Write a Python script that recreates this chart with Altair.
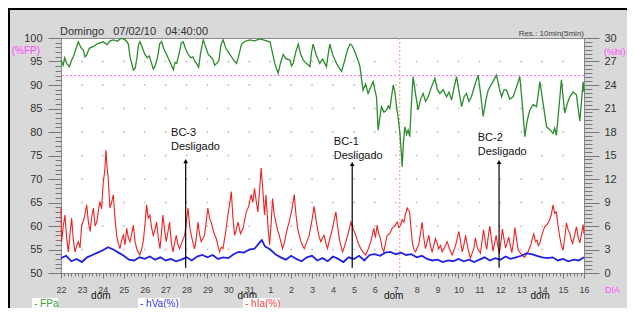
import altair as alt
import pandas as pd

# ---------------- data (x = days since 22 Jan 2010 00:00) ----------------
fpa_day = [0.00,0.10,0.18,0.27,0.40,0.50,0.59,0.70,0.83,0.95,1.07,1.15,1.23,1.35,1.55,1.75,2.02,2.20,2.35,2.50,2.70,2.85,2.98,3.10,3.22,3.30,3.38,3.46,3.54,3.62,3.70,3.77,3.90,4.01,4.12,4.22,4.33,4.41,4.49,4.62,4.72,4.81,4.93,5.05,5.15,5.25,5.37,5.45,5.53,5.65,5.75,5.84,5.96,6.08,6.20,6.30,6.40,6.48,6.58,6.68,6.80,6.92,7.04,7.15,7.25,7.35,7.44,7.55,7.65,7.75,7.88,8.07,8.18,8.28,8.39,8.50,8.63,8.80,9.03,9.25,9.51,9.75,9.99,10.10,10.22,10.30,10.38,10.50,10.62,10.75,10.94,11.02,11.10,11.22,11.34,11.46,11.58,11.75,11.90,11.97,12.05,12.20,12.37,12.50,12.69,12.77,12.85,13.00,13.17,13.30,13.41,13.55,13.70,13.81,13.89,14.00,14.13,14.22,14.29,14.36,14.44,14.56,14.68,14.80,14.92,15.00,15.08,15.16,15.24,15.32,15.44,15.56,15.64,15.72,15.80,15.88,15.96,16.04,16.12,16.20,16.26,16.31,16.37,16.44,16.52,16.59,16.67,16.75,16.83,16.95,17.07,17.19,17.31,17.43,17.55,17.70,17.87,17.99,18.11,18.27,18.43,18.55,18.67,18.79,18.91,19.03,19.15,19.27,19.38,19.50,19.62,19.78,19.94,20.06,20.18,20.30,20.42,20.62,20.82,20.94,21.06,21.18,21.30,21.45,21.61,21.77,21.93,22.05,22.17,22.29,22.41,22.57,22.73,22.81,22.89,23.05,23.21,23.37,23.52,23.60,23.68,23.80,23.92,24.00,24.08,24.20,24.32,24.48,24.64,24.72,24.80,24.88,24.96,25.00]
fpa_val = [95.3,94.2,95.8,94.6,93.9,95.2,96.0,97.5,99.2,98.0,97.4,96.0,96.4,97.8,98.2,98.8,99.2,98.6,99.4,99.6,99.3,99.9,99.8,99.5,98.7,96.0,94.6,93.2,93.5,95.5,98.5,99.2,97.8,96.5,95.8,96.2,94.6,93.4,93.9,96.0,98.8,99.2,97.5,96.5,95.5,94.5,93.2,94.8,94.6,96.8,98.9,99.2,97.6,96.5,95.8,96.0,95.0,94.6,93.8,97.0,99.6,98.0,96.5,96.0,95.5,94.2,94.6,95.2,98.6,99.6,97.8,96.5,95.8,95.1,94.6,96.3,98.7,99.3,99.6,99.4,99.8,99.5,99.2,97.0,94.6,93.5,92.5,94.8,96.5,95.6,95.3,94.0,94.6,97.0,98.7,96.5,95.3,94.5,93.9,96.8,98.7,96.4,94.6,95.5,93.9,96.5,98.7,96.3,94.6,93.6,92.9,95.0,97.5,98.7,98.5,97.6,96.0,95.0,93.9,91.5,88.9,90.2,88.2,89.5,90.7,89.0,87.5,80.4,83.0,85.4,84.2,84.7,85.5,85.0,87.5,90.0,88.5,85.4,83.0,79.7,76.0,72.6,78.0,81.1,79.5,80.4,79.0,86.0,91.8,88.0,84.7,87.0,88.2,86.5,87.5,89.5,91.4,89.0,88.2,89.0,87.5,88.5,86.8,89.5,91.8,88.5,85.4,87.5,88.2,86.5,87.5,90.0,92.1,88.0,83.3,86.5,88.9,90.5,92.1,89.5,87.5,89.0,88.9,87.0,87.5,89.5,91.8,86.0,79.0,82.5,84.7,85.8,85.4,88.0,90.7,86.0,81.1,80.5,79.7,80.8,79.3,85.0,91.1,87.5,84.0,86.0,87.5,88.5,87.9,85.0,82.3,86.5,90.7,88.5]

hia_day = [0.00,0.03,0.11,0.19,0.27,0.35,0.43,0.51,0.59,0.67,0.75,0.83,0.91,0.99,1.11,1.23,1.31,1.39,1.47,1.55,1.63,1.71,1.79,1.86,1.94,2.02,2.09,2.15,2.20,2.26,2.30,2.34,2.42,2.50,2.58,2.66,2.74,2.82,2.90,2.98,3.06,3.14,3.22,3.30,3.38,3.46,3.54,3.62,3.70,3.77,3.85,3.93,4.01,4.09,4.17,4.25,4.33,4.41,4.49,4.57,4.65,4.73,4.80,4.87,4.95,5.03,5.11,5.19,5.27,5.35,5.43,5.51,5.59,5.67,5.79,5.91,5.99,6.07,6.15,6.23,6.31,6.39,6.47,6.55,6.62,6.70,6.78,6.86,6.94,7.02,7.10,7.18,7.30,7.42,7.50,7.58,7.66,7.74,7.86,7.98,8.06,8.14,8.22,8.30,8.38,8.46,8.58,8.70,8.78,8.86,8.97,9.09,9.17,9.25,9.33,9.41,9.49,9.57,9.65,9.73,9.80,9.90,9.97,10.04,10.11,10.19,10.27,10.35,10.43,10.51,10.59,10.67,10.75,10.83,10.91,11.03,11.15,11.23,11.31,11.39,11.47,11.55,11.63,11.75,11.86,11.98,12.10,12.18,12.26,12.34,12.42,12.50,12.58,12.66,12.74,12.86,12.98,13.06,13.14,13.22,13.30,13.38,13.46,13.54,13.62,13.74,13.86,13.98,14.09,14.21,14.33,14.45,14.57,14.69,14.81,14.88,14.95,15.03,15.11,15.19,15.27,15.35,15.43,15.51,15.59,15.71,15.83,15.95,16.07,16.15,16.23,16.31,16.39,16.47,16.55,16.61,16.66,16.72,16.79,16.87,16.95,17.02,17.10,17.18,17.26,17.34,17.42,17.50,17.58,17.66,17.74,17.82,17.90,17.98,18.06,18.14,18.22,18.34,18.46,18.58,18.70,18.86,19.02,19.10,19.18,19.26,19.34,19.46,19.57,19.65,19.73,19.81,19.90,20.05,20.12,20.20,20.28,20.35,20.43,20.50,20.58,20.65,20.73,20.80,20.88,20.95,21.03,21.10,21.18,21.25,21.33,21.40,21.48,21.55,21.63,21.70,21.78,21.85,22.00,22.15,22.30,22.45,22.53,22.60,22.68,22.75,22.82,22.89,23.00,23.12,23.24,23.36,23.44,23.52,23.60,23.68,23.76,23.84,23.92,24.00,24.08,24.16,24.24,24.32,24.39,24.46,24.55,24.64,24.72,24.80,24.88,24.96,25.00]
hia_val = [8.3,4.0,6.0,7.4,4.5,2.7,5.0,7.0,4.2,2.7,3.5,4.0,3.2,6.1,7.0,8.7,6.5,5.3,7.2,8.3,6.0,6.5,8.0,9.1,8.2,11.6,13.0,15.7,13.5,12.1,10.0,8.3,9.0,10.0,7.0,4.8,3.8,3.1,4.2,4.8,3.6,5.7,4.5,4.0,5.0,6.1,4.0,3.1,2.6,2.3,3.0,4.0,6.0,8.7,7.0,7.4,5.8,4.8,5.5,6.5,4.5,3.1,5.0,7.4,5.5,4.0,5.2,6.5,4.0,2.7,3.8,4.8,3.6,3.1,4.0,4.8,6.5,8.3,6.0,4.8,3.8,3.1,4.5,6.5,5.0,4.0,4.4,4.8,6.5,8.3,7.0,6.5,5.2,4.4,3.5,2.7,3.3,3.1,5.0,7.4,8.8,10.4,7.0,4.8,5.5,6.5,5.0,5.7,6.8,7.8,8.5,10.0,9.0,10.8,9.2,7.8,10.5,13.4,10.5,7.4,10.0,5.7,3.6,6.0,9.5,7.5,6.5,5.5,4.8,4.0,3.1,3.8,4.8,5.8,6.5,8.0,10.0,7.5,5.7,4.8,4.0,3.5,3.1,4.0,4.8,6.5,8.5,7.0,5.7,4.6,4.0,4.5,4.8,3.8,3.1,4.5,5.7,6.8,7.8,6.0,4.4,3.5,2.7,3.3,4.0,5.2,6.5,5.5,4.8,3.8,3.1,2.6,2.3,3.1,4.0,4.8,5.7,4.5,6.1,5.0,4.4,3.2,2.7,3.8,4.8,5.0,5.7,6.0,6.5,5.8,6.1,6.8,6.5,7.5,8.3,8.0,7.8,6.0,4.0,3.0,2.7,3.2,3.6,5.0,6.5,4.5,3.1,4.0,4.8,3.5,2.7,3.5,4.4,3.8,3.1,3.5,2.7,3.3,4.0,3.0,2.3,3.5,5.3,4.0,2.7,3.6,4.8,3.0,1.9,2.5,3.1,4.5,3.2,2.5,4.0,5.5,4.0,3.0,4.8,6.0,4.2,2.8,3.8,4.8,3.5,2.5,4.0,5.6,4.3,3.2,3.9,4.6,3.5,2.6,4.0,5.8,4.2,3.0,2.4,2.0,2.6,3.5,4.4,5.0,4.0,4.2,3.5,3.8,5.0,5.9,6.2,6.8,7.5,8.7,7.6,7.8,6.0,4.6,3.5,2.9,4.5,6.4,5.5,5.1,4.2,3.8,4.8,5.9,4.6,3.8,5.0,6.2,5.0]

hva_day = [0.00,0.25,0.50,0.75,1.00,1.25,1.50,1.75,2.00,2.25,2.50,2.75,3.00,3.25,3.50,3.75,4.00,4.25,4.50,4.75,5.00,5.25,5.50,5.75,6.00,6.25,6.50,6.75,7.00,7.25,7.50,7.75,8.00,8.25,8.50,8.75,9.00,9.25,9.50,9.60,9.75,10.00,10.25,10.50,10.75,11.00,11.25,11.50,11.75,12.00,12.25,12.50,12.75,13.00,13.25,13.50,13.75,14.00,14.25,14.50,14.75,15.00,15.25,15.50,15.75,16.00,16.25,16.50,16.75,17.00,17.25,17.50,17.75,18.00,18.25,18.50,18.75,19.00,19.25,19.50,19.75,20.00,20.25,20.50,20.75,21.00,21.25,21.50,21.75,22.00,22.25,22.50,22.75,23.00,23.25,23.50,23.75,24.00,24.25,24.50,24.75,25.00]
hva_val = [1.9,2.2,1.5,1.8,1.4,2.0,2.3,2.6,2.9,3.3,3.0,2.6,2.2,1.7,1.6,2.0,1.8,2.1,1.7,2.0,1.6,1.8,1.5,1.7,2.0,1.6,2.1,2.3,2.0,2.3,1.8,2.0,1.9,2.4,2.7,2.6,3.0,3.1,3.9,4.2,3.4,3.0,2.4,2.0,1.7,2.2,1.8,1.5,2.0,2.2,1.6,1.9,1.5,2.1,1.8,1.4,2.0,1.8,2.2,1.6,2.3,2.4,2.2,2.6,2.7,2.4,2.6,2.3,2.4,2.0,2.2,1.8,1.6,1.7,1.4,1.6,1.5,1.8,1.5,1.7,1.4,1.7,2.0,1.6,1.9,1.7,2.1,1.8,2.0,2.2,2.5,2.4,2.2,2.0,1.9,2.0,1.6,1.8,1.5,1.7,1.6,2.0]

day_labels = ["22","23","24","25","26","27","28","29","30","31","1","2","3","4","5","6","7","8","9","10","11","12","13","14","15","16"]
sunday_days = [2, 9, 16, 23]
grid_days = list(range(1, 25))
grid_levels = [55, 60, 65, 70, 75, 80, 85, 90, 95]
fp_limit = [92]
now_day = [16.194]

note_text = ["BC-3\nDesligado", "BC-1\nDesligado", "BC-2\nDesligado"]
note_text_day = [5.26, 13.04, 19.92]
note_text_level = [81.1, 79.1, 80.0]
note_arrow_day = [5.96, 13.92, 20.94]
note_arrow_tip = [73.8, 73.2, 73.6]
note_arrow_base = 51.1

legend_names = ["- FPa", "- hVa(%)", "- hIa(%)"]
legend_colors = ["#36a336", "#3434e8", "#f03c3c"]

# ---------------- tables ----------------
fpa = pd.DataFrame({"day": fpa_day, "v": fpa_val})
hia = pd.DataFrame({"day": hia_day, "v": hia_val})
hva = pd.DataFrame({"day": hva_day, "v": hva_val})
grid = pd.DataFrame([{"day": d, "v": l} for d in grid_days for l in grid_levels])
notes = pd.DataFrame({"txt": note_text, "tday": note_text_day, "tlev": note_text_level,
                      "aday": note_arrow_day, "tip": note_arrow_tip, "base": note_arrow_base})
suns = pd.DataFrame({"day": sunday_days, "t": ["dom"] * len(sunday_days)})
one = pd.DataFrame({"a": [0]})

FONT = "Liberation Sans"
W, H = 523, 235
xs = alt.Scale(domain=[0, 25], nice=False, zero=False)
yl = alt.Scale(domain=[50, 100], nice=False, zero=False)
yr = alt.Scale(domain=[0, 30], nice=False, zero=False)

lab_arr = "[" + ",".join("'" + s + "'" for s in day_labels) + "]"
common = dict(domain=False, grid=False, labelFlush=False, labelOverlap=False,
              tickColor="#777", labelFont=FONT, title=None)

x_major = alt.Axis(orient="bottom", values=list(range(26)), labelExpr=lab_arr + "[round(datum.value)]",
                   tickSize=5, labelFontSize=9, labelColor="#444", labelPadding=7, **common)
x_minor = alt.Axis(orient="bottom", values=[i / 6 for i in range(151)], labels=False, tickSize=3, **common)
yl_major = alt.Axis(orient="left", values=list(range(50, 101, 5)), tickSize=13, labelFontSize=11,
                    labelColor="#333", labelPadding=6, **common)
yl_minor = alt.Axis(orient="left", values=list(range(50, 101)), labels=False, tickSize=6, **common)
yr_major = alt.Axis(orient="right", values=list(range(0, 31, 3)), tickSize=15, labelFontSize=11,
                    labelColor="#333", labelPadding=5, **common)
yr_minor = alt.Axis(orient="right", values=[i * 0.5 for i in range(61)], labels=False,
                    tickSize=8, **common)

# ---- left group (FPa scale) ----
dots = alt.Chart(grid).mark_circle(size=4, color="#c4c4c4", opacity=1).encode(
    x=alt.X("day:Q", scale=xs, axis=x_minor), y=alt.Y("v:Q", scale=yl, axis=yl_minor))
limit = alt.Chart(pd.DataFrame({"v": fp_limit})).mark_rule(
    color="#ff66ff", strokeDash=[2, 2], strokeWidth=1).encode(y=alt.Y("v:Q", scale=yl, axis=None))
nowline = alt.Chart(pd.DataFrame({"day": now_day})).mark_rule(
    color="#f59a7a", strokeDash=[2, 2], strokeWidth=1).encode(x=alt.X("day:Q", scale=xs, axis=None))
green = alt.Chart(fpa).mark_line(color="#2b8c2b", strokeWidth=1.3).encode(
    x=alt.X("day:Q", scale=xs, axis=x_major), y=alt.Y("v:Q", scale=yl, axis=yl_major))
left = alt.layer(dots, limit, nowline, green).resolve_axis(x="independent", y="independent")

# ---- right group (hI scale) ----
red = alt.Chart(hia).mark_line(color="#f02020", strokeWidth=1.1).encode(
    x=alt.X("day:Q", scale=xs, axis=None), y=alt.Y("v:Q", scale=yr, axis=yr_major))
blue = alt.Chart(hva).mark_line(color="#2020e6", strokeWidth=1.8).encode(
    x=alt.X("day:Q", scale=xs, axis=None), y=alt.Y("v:Q", scale=yr, axis=yr_minor))
right = alt.layer(red, blue).resolve_axis(x="independent", y="independent")

# ---- annotations (FPa scale, no axis) ----
arrows = alt.Chart(notes).mark_rule(color="black", strokeWidth=1.2).encode(
    x=alt.X("aday:Q", scale=xs, axis=None),
    y=alt.Y("base:Q", scale=yl, axis=None), y2="tip:Q")
heads = alt.Chart(notes).mark_point(shape="triangle-up", filled=True, size=22,
                                     color="black", opacity=1).encode(
    x=alt.X("aday:Q", scale=xs, axis=None), y=alt.Y("tip:Q", scale=yl, axis=None))
ntext = alt.Chart(notes).mark_text(align="left", baseline="top", lineBreak="\n",
                                   lineHeight=14, fontSize=11, font=FONT, color="#111").encode(
    x=alt.X("tday:Q", scale=xs, axis=None), y=alt.Y("tlev:Q", scale=yl, axis=None), text="txt:N")
doms = alt.Chart(suns).mark_text(fontSize=10, font=FONT, color="#111", dx=-2).encode(
    x=alt.X("day:Q", scale=xs, axis=None), y=alt.value(258), text="t:N")

def ptext(txt, x, y, **kw):
    return alt.Chart(one).mark_text(text=txt, font=FONT, **kw).encode(x=alt.value(x), y=alt.value(y))

title = ptext("Domingo\u00a0\u00a0\u00a007/02/10\u00a0\u00a0\u00a004:40:00", -1, -6, align="left",
              baseline="middle", fontSize=11, color="#333")
res = ptext("Res.:\u00a010min(5min)", 523, -4, align="right", baseline="middle", fontSize=8, color="#444")
fp_unit = ptext("(%FP)", -21, 13, align="right", baseline="middle", fontSize=10, color="#ff44ff")
hi_unit = ptext("(%hI)", 543, 14, align="left", baseline="middle", fontSize=9, color="#ff44ff")
dia = ptext("DIA", 544, 252, align="left", baseline="middle", fontSize=9, color="#ff55ff")

leg_x0 = [-29, 77, 182]
leg_x1 = [-3, 119, 219]
leg = []
for name, col, a, b in zip(legend_names, legend_colors, leg_x0, leg_x1):
    leg.append(alt.Chart(one).mark_rect(color="white").encode(
        x=alt.value(a), x2=alt.value(b), y=alt.value(260), y2=alt.value(270)))
    leg.append(ptext(name, a + 2, 265.5, align="left", baseline="middle", fontSize=10, color=col))

border_top = alt.Chart(one).mark_rule(color="black", strokeWidth=2).encode(
    x=alt.value(-53), x2=alt.value(566), y=alt.value(-29))
border_left = alt.Chart(one).mark_rule(color="black", strokeWidth=2).encode(
    x=alt.value(-52), y=alt.value(-29), y2=alt.value(270))

annot = alt.layer(arrows, heads, ntext, doms, title, res, fp_unit, hi_unit, dia,
                  border_top, border_left, *leg)

chart = alt.layer(left, right, annot).resolve_scale(y="independent").resolve_axis(
    x="independent", y="independent").properties(
    width=W, height=H,
    padding={"left": 53, "top": 30, "right": 43, "bottom": 35},
    autosize=alt.AutoSizeParams(type="none"),
    background="#d9d9d9",
).configure_view(fill="white", stroke="#8a8a8a", strokeWidth=1)

chart.save("out.html", embed_options={"renderer": "svg", "actions": False})
